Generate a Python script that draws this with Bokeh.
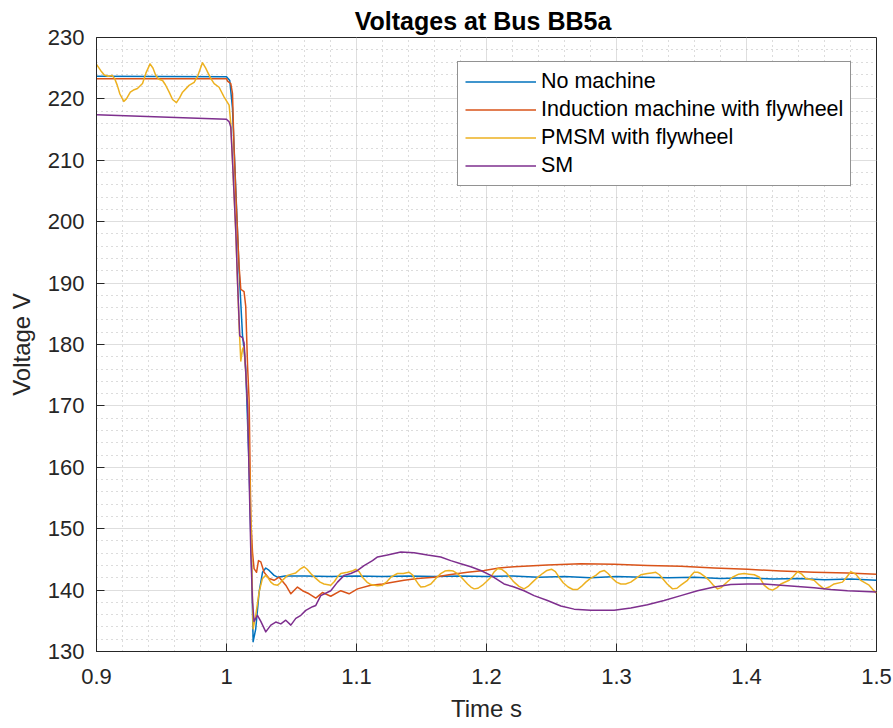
from bokeh.plotting import figure
from bokeh.models import Range1d, SingleIntervalTicker, LinearAxis, CustomJSTickFormatter, Legend, LegendItem, Grid
from bokeh.embed import file_html
from bokeh.resources import INLINE

# ---------------- data ----------------
no_machine_t = [0.9, 1.0, 1.0025, 1.0046, 1.0072, 1.0097, 1.0123, 1.0135, 1.0148, 1.0174, 1.0195,
                1.0205, 1.0225, 1.0251, 1.0277, 1.0302, 1.0328, 1.0366, 1.0392, 1.045, 1.06, 1.08,
                1.10, 1.12, 1.14, 1.16, 1.18, 1.20, 1.22, 1.24, 1.26, 1.28, 1.30, 1.32, 1.34, 1.36,
                1.38, 1.40, 1.42, 1.44, 1.46, 1.48, 1.50]
no_machine_v = [223.7, 223.6, 223.0, 218.5, 205.0, 192.0, 181.5, 179.2, 176.0, 160.0, 142.0,
                131.6, 133.7, 139.7, 142.9, 143.6, 143.2, 142.4, 142.1, 142.3, 142.3, 142.2,
                142.3, 142.2, 142.3, 142.2, 142.3, 142.2, 142.3, 142.1, 142.2, 142.0, 142.2, 142.1, 142.0, 142.1,
                141.9, 142.0, 141.8, 141.9, 141.7, 141.8, 141.6]

induction_t = [0.9, 1.0, 1.0008, 1.0033, 1.0046, 1.0058, 1.0075, 1.0097, 1.0110, 1.0135, 1.0148,
               1.0162, 1.0174, 1.0187, 1.0200, 1.0212, 1.0231, 1.0246, 1.0264, 1.0289, 1.0328,
               1.0366, 1.0405, 1.0456, 1.0495, 1.0546, 1.0585, 1.0635, 1.0687, 1.0738, 1.0802,
               1.0879, 1.0943, 1.1008, 1.1110, 1.1200, 1.1366, 1.1469, 1.1597, 1.1712, 1.1854,
               1.1982, 1.2097, 1.2212, 1.2469, 1.2725, 1.2982, 1.3238, 1.3495, 1.3751, 1.4008,
               1.4264, 1.4520, 1.4777, 1.5]
induction_v = [223.3, 223.3, 222.9, 222.5, 220.9, 212.0, 203.0, 192.7, 189.0, 188.6, 186.2,
               176.5, 171.0, 151.6, 146.2, 143.5, 142.9, 144.8, 144.6, 142.9, 141.9,
               141.6, 142.1, 140.8, 139.4, 140.5, 139.9, 139.4, 138.7, 139.6, 139.0,
               139.9, 139.4, 140.2, 140.8, 141.0, 141.6, 141.9, 142.1, 142.5, 142.9,
               143.2, 143.6, 143.8, 144.1, 144.3, 144.2, 144.0, 143.9, 143.6, 143.4,
               143.1, 142.9, 142.8, 142.6]

pmsm_t = [0.900, 0.9033, 0.906, 0.909, 0.912, 0.914, 0.916, 0.918, 0.921, 0.923, 0.926,
          0.929, 0.9315, 0.9354, 0.938, 0.9412, 0.9435, 0.9456, 0.948, 0.9508, 0.953,
          0.9559, 0.9585, 0.9615, 0.964, 0.9662, 0.9712, 0.9751, 0.978, 0.9815, 0.984,
          0.9854, 0.988, 0.9905, 0.9943, 0.9982, 1.0020, 1.0033, 1.0046, 1.0072, 1.0097,
          1.0110, 1.0123, 1.0135, 1.0162, 1.0187, 1.0205, 1.0225, 1.0251, 1.0277, 1.0302,
          1.0320, 1.0341, 1.0365, 1.0392, 1.0410, 1.0431, 1.0469, 1.0500, 1.0533, 1.0565,
          1.0597, 1.0620, 1.0648, 1.0687, 1.0720, 1.0750, 1.0802, 1.0830, 1.0855, 1.0879,
          1.0930, 1.0965, 1.0995, 1.1020, 1.1046, 1.1080, 1.1110, 1.1160, 1.1200, 1.1235,
          1.1264, 1.1315, 1.1360, 1.1405, 1.1430, 1.1450, 1.1475, 1.1495, 1.1530, 1.1572,
          1.1610, 1.1648, 1.1680, 1.1712, 1.1745, 1.1777, 1.1815, 1.1854, 1.1880, 1.1905,
          1.1935, 1.1969, 1.2000, 1.2033, 1.2060, 1.2085, 1.2115, 1.2148, 1.2180, 1.2212,
          1.2250, 1.2289, 1.2320, 1.2354, 1.2390, 1.2431, 1.2465, 1.2500, 1.2530, 1.2558,
          1.2590, 1.2628, 1.2665, 1.2700, 1.2730, 1.2764, 1.2800, 1.2841, 1.2875, 1.2905,
          1.2935, 1.2969, 1.3000, 1.3033, 1.3070, 1.3110, 1.3150, 1.3187, 1.3238, 1.3270,
          1.3302, 1.3330, 1.3354, 1.3390, 1.3431, 1.3465, 1.3495, 1.3546, 1.3575, 1.3597,
          1.3625, 1.3648, 1.3680, 1.3712, 1.3745, 1.3777, 1.3805, 1.3830, 1.3892, 1.3940,
          1.3982, 1.4020, 1.4060, 1.4100, 1.4135, 1.4170, 1.4200, 1.4235, 1.4264, 1.4328,
          1.4360, 1.4392, 1.4425, 1.4456, 1.4520, 1.4560, 1.4597, 1.4635, 1.4674, 1.4738,
          1.4770, 1.4802, 1.4840, 1.4879, 1.4943, 1.4975, 1.5]
pmsm_v = [225.6, 224.6, 223.9, 223.7, 223.8, 223.3, 222.2, 220.8, 219.6, 220.0, 221.1,
          221.5, 221.7, 222.5, 224.2, 225.7, 225.0, 223.8, 223.2, 223.0, 222.3,
          221.1, 219.9, 219.4, 220.2, 221.1, 222.2, 222.7, 223.8, 225.9, 225.0,
          224.4, 223.3, 222.5, 221.9, 220.3, 219.0, 216.0, 210.0, 198.0, 183.0,
          177.3, 179.2, 179.7, 171.0, 152.0, 133.7, 135.9, 139.7, 141.9, 142.4,
          142.0, 141.3, 140.9, 140.8, 141.1, 141.6, 142.4, 142.6, 142.8, 143.4,
          143.8, 143.4, 142.7, 141.9, 141.3, 141.0, 140.8, 141.4, 142.2, 142.7,
          142.9, 143.1, 143.4, 143.0, 142.1, 141.3, 140.9, 140.7, 140.8, 141.4,
          142.1, 142.7, 142.7, 142.9, 142.5, 141.8, 141.0, 140.5, 140.6, 141.0,
          141.9, 142.7, 143.1, 143.2, 143.1, 142.7, 141.9, 141.0, 140.5, 140.2,
          140.3, 140.8, 141.4, 142.1, 143.0, 143.5, 143.4, 142.9, 142.1, 141.3,
          140.6, 140.2, 140.6, 141.3, 142.0, 142.7, 143.2, 143.4, 143.0, 142.1,
          141.2, 140.5, 140.1, 140.1, 140.6, 141.3, 141.9, 142.4, 143.0, 143.2,
          142.7, 141.9, 141.3, 141.0, 141.0, 141.3, 141.9, 142.5, 142.7, 142.8,
          142.9, 142.5, 141.9, 141.0, 140.2, 140.3, 140.8, 141.6, 142.4, 142.9,
          142.9, 142.7, 142.2, 141.6, 140.8, 140.2, 140.4, 140.9, 142.1, 142.6,
          142.7, 142.6, 142.5, 142.1, 140.8, 140.2, 140.0, 140.4, 141.0, 141.6,
          142.2, 143.0, 142.6, 141.9, 141.6, 140.8, 140.2, 140.5, 141.0, 141.3,
          142.1, 143.0, 142.6, 141.6, 140.8, 140.0, 139.5]

sm_t = [0.9, 1.0, 1.0008, 1.0020, 1.0033, 1.0046, 1.0072, 1.0085, 1.0102, 1.0123, 1.0135,
        1.0148, 1.0162, 1.0187, 1.0200, 1.0212, 1.0238, 1.0264, 1.0302, 1.0341, 1.0379,
        1.0418, 1.0456, 1.0495, 1.0533, 1.0572, 1.0610, 1.0662, 1.0687, 1.0725, 1.0802,
        1.0854, 1.0905, 1.0956, 1.1008, 1.1058, 1.1123, 1.1162, 1.1238, 1.1341, 1.1443,
        1.1546, 1.1648, 1.1725, 1.1802, 1.1879, 1.1956, 1.2033, 1.2135, 1.2212, 1.2289,
        1.2366, 1.2469, 1.2572, 1.2674, 1.2802, 1.2982, 1.3110, 1.3238, 1.3366, 1.3495,
        1.3623, 1.3751, 1.3879, 1.4008, 1.4135, 1.4264, 1.4392, 1.4520, 1.4648, 1.4777, 1.5]
sm_v = [217.4, 216.7, 216.5, 216.3, 215.4, 210.0, 198.2, 190.1, 181.4, 181.1, 180.3,
        175.5, 170.0, 146.2, 138.1, 134.9, 135.9, 134.9, 133.2, 134.3, 134.8,
        134.5, 135.1, 134.3, 135.4, 135.9, 136.7, 137.3, 137.5, 139.1, 139.9,
        141.3, 142.4, 142.7, 143.2, 144.0, 144.8, 145.4, 145.7, 146.2, 146.1,
        145.7, 145.4, 144.8, 144.3, 143.8, 143.2, 142.4, 141.0, 140.5, 139.9,
        139.1, 138.3, 137.4, 136.9, 136.7, 136.7, 137.1, 137.6, 138.3, 139.1,
        139.9, 140.5, 140.9, 141.0, 141.0, 140.8, 140.6, 140.4, 140.1, 139.9, 139.7]

series_names = ["No machine", "Induction machine with flywheel", "PMSM with flywheel", "SM"]
series_t = [no_machine_t, induction_t, pmsm_t, sm_t]
series_v = [no_machine_v, induction_v, pmsm_v, sm_v]
colors = ["#0072BD", "#D95319", "#EDB120", "#7E2F8E"]

title_text = "Voltages at  Bus BB5a"
x_label = "Time s"
y_label = "Voltage V"

FONT = "Liberation Sans"
AX = "#262626"

p = figure(width=893, height=728, output_backend="svg", toolbar_location=None,
           x_range=Range1d(0.9, 1.5), y_range=Range1d(130, 230),
           min_border_left=96, min_border_right=17, min_border_top=37, min_border_bottom=77,
           x_axis_type=None, y_axis_type=None)

p.title.text = title_text
p.title.align = "center"
p.title.text_font = FONT
p.title.text_font_size = "25px"
p.title.text_font_style = "bold"
p.title.text_color = "black"
p.title.standoff = 5

fmt = CustomJSTickFormatter(code="return (Math.round(tick*10)/10).toString();")
xt = SingleIntervalTicker(interval=0.1, num_minor_ticks=5)
yt = SingleIntervalTicker(interval=10, num_minor_ticks=5)

def style_axis(ax):
    ax.axis_line_color = AX
    ax.major_tick_line_color = AX
    ax.major_tick_in = 8
    ax.major_tick_out = 0
    ax.minor_tick_in = 0
    ax.minor_tick_out = 0
    ax.major_label_text_font = FONT
    ax.major_label_text_color = AX
    ax.major_label_text_font_size = "22px"
    ax.axis_label_text_font = FONT
    ax.axis_label_text_color = AX
    ax.axis_label_text_font_style = "normal"
    ax.axis_label_text_font_size = "24px"

xb = LinearAxis(ticker=xt, formatter=fmt, axis_label=x_label)
style_axis(xb)
xb.major_label_standoff = 17
xb.axis_label_standoff = 8
p.add_layout(xb, "below")

yl = LinearAxis(ticker=yt, axis_label=y_label)
style_axis(yl)
yl.major_label_standoff = 12
yl.axis_label_standoff = 10
p.add_layout(yl, "left")

gx = Grid(dimension=0, ticker=xt)
gy = Grid(dimension=1, ticker=yt)
for g in (gx, gy):
    g.grid_line_color = "#dedede"
    g.grid_line_width = 1
    g.minor_grid_line_color = "#b8b8b8"
    g.minor_grid_line_dash = "1 4"
    g.minor_grid_line_width = 1
    p.add_layout(g)

p.outline_line_color = AX
p.outline_line_width = 1
p.background_fill_color = "white"
p.border_fill_color = "white"

items = []
for name, t, v, c in zip(series_names, series_t, series_v, colors):
    r = p.line(t, v, line_color=c, line_width=1.5, line_join="round")
    items.append(LegendItem(label=name, renderers=[r]))

legend = Legend(items=items, location=(361, 465))
legend.label_text_font = FONT
legend.label_text_font_size = "21.5px"
legend.label_text_color = "black"
legend.glyph_width = 71
legend.glyph_height = 21
legend.label_height = 21
legend.label_standoff = 5
legend.spacing = 3
legend.padding = 7
legend.margin = 0
legend.border_line_color = AX
legend.border_line_width = 1
legend.background_fill_alpha = 1.0
p.add_layout(legend, "center")

open("out.html", "w").write(file_html(p, INLINE))
